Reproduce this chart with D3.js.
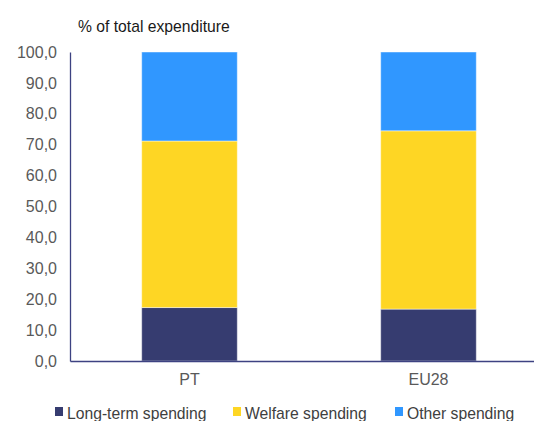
<!DOCTYPE html>
<html>
<head>
<meta charset="utf-8">
<script src="https://cdn.jsdelivr.net/npm/d3@7"></script>
<style>
	body { margin: 0; background: #fff; }
	text { font-family: "Liberation Sans", Arial, sans-serif; fill: #595959; }
</style>
</head>
<body>
<script>
// chart data
var categories = ['PT', 'EU28'];
var seriesNames = ['Long-term spending', 'Welfare spending', 'Other spending'];
var longTerm = [17.3, 16.8];
var welfare = [53.9, 57.7];
var other = [28.8, 25.5];
var yTicks = [0, 10, 20, 30, 40, 50, 60, 70, 80, 90, 100];
var colors = ['#363c70', '#fed624', '#3097ff'];

var width = 534,
	height = 421;

var svg = d3.select('body')
	.append('svg')
	.attr('width', width)
	.attr('height', height);

// build rows for the stack
var rows = categories.map(function(c, i) {
	return { cat: c, 'Long-term spending': longTerm[i], 'Welfare spending': welfare[i], 'Other spending': other[i] };
});
var stack = d3.stack().keys(seriesNames)(rows);

// scales
var x = d3.scaleBand()
	.domain(categories)
	.range([70, 548])
	.paddingInner(0.6)
	.paddingOuter(0.3);

var y = d3.scaleLinear()
	.domain([0, 100])
	.range([361, 52]);

// bars
svg.append('g')
	.selectAll('g')
	.data(stack)
	.enter().append('g')
	.attr('fill', function(d, i) { return colors[i]; })
	.selectAll('rect')
	.data(function(d) { return d; })
	.enter().append('rect')
	.attr('x', function(d) { return x(d.data.cat); })
	.attr('y', function(d) { return y(d[1]); })
	.attr('width', x.bandwidth())
	.attr('height', function(d) { return y(d[0]) - y(d[1]); })
	.attr('stroke', 'rgba(255,255,255,0.45)')
	.attr('stroke-width', 1);

// y axis
var yAxis = svg.append('g')
	.attr('transform', 'translate(70,0)')
	.call(d3.axisLeft(y)
		.tickValues(yTicks)
		.tickSize(0)
		.tickPadding(13)
		.tickFormat(function(d) { return d3.format('.1f')(d).replace('.', ','); }));
yAxis.select('.domain').attr('stroke', '#3d4282').attr('stroke-width', 1.3);
yAxis.selectAll('text').style('font-size', '16px').style('fill', '#595959');

// x axis
var xAxis = svg.append('g')
	.attr('transform', 'translate(0,361)')
	.call(d3.axisBottom(x).tickSize(0).tickPadding(13));
xAxis.select('.domain').attr('stroke', '#3d4282').attr('stroke-width', 1.3);
xAxis.selectAll('text').style('font-size', '16px').style('fill', '#595959');

// title
svg.append('text')
	.attr('x', 78)
	.attr('y', 32)
	.style('font-size', '15.7px')
	.style('fill', '#1a1a1a')
	.text('% of total expenditure');

// legend
var legendX = [55, 233, 395];
var legend = svg.append('g')
	.selectAll('g')
	.data(seriesNames)
	.enter().append('g')
	.attr('transform', function(d, i) { return 'translate(' + legendX[i] + ',407)'; });

legend.append('rect')
	.attr('width', 8)
	.attr('height', 9)
	.attr('fill', function(d, i) { return colors[i]; });

legend.append('text')
	.attr('x', 12)
	.attr('y', 12)
	.style('font-size', '15.7px')
	.style('fill', '#404040')
	.text(function(d) { return d; });
</script>
</body>
</html>
